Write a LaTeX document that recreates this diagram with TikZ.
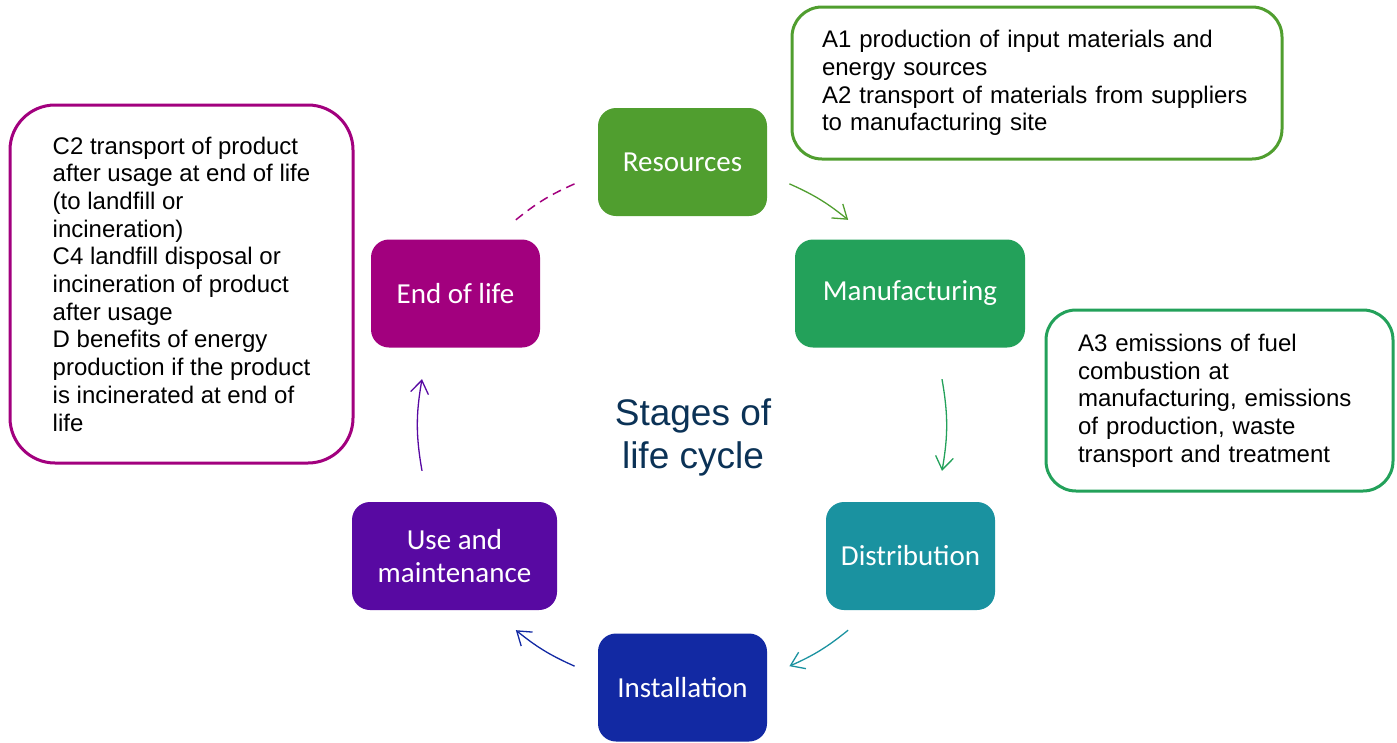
\documentclass[tikz,border=0pt]{standalone}
\usepackage{fontspec}
\setmainfont{Liberation Sans}
\newfontfamily\stagefont{Carlito}
\usetikzlibrary{arrows.meta,calc}
\definecolor{resgreen}{RGB}{80,158,47}
\definecolor{mangreen}{RGB}{35,161,90}
\definecolor{distteal}{RGB}{26,146,160}
\definecolor{instblue}{RGB}{18,41,163}
\definecolor{usepurple}{RGB}{88,9,162}
\definecolor{eolmagenta}{RGB}{162,0,126}
\definecolor{titlenavy}{RGB}{11,50,86}
\tikzset{
  stage/.style={rectangle,rounded corners=18pt,minimum width=169pt,minimum height=108pt,
    inner sep=0pt,align=center,text=white,font=\stagefont\fontsize{29}{33}\selectfont},
  note/.style={rectangle,draw,line width=3pt,rounded corners=30pt,align=left,
    font=\fontsize{24}{27.7}\selectfont},
  cyc/.style={line width=1.3pt,-{Straight Barb[length=13pt,width=18pt]}}
}
\begin{document}
\begin{tikzpicture}[x=1pt,y=-1pt]
    \useasboundingbox (0,0) rectangle (1397,742);
    \node[stage,fill=resgreen] (res) at (682.5,162) {Resources};
    \node[stage,fill=mangreen,minimum width=230pt] (man) at (910,293.5) {Manufacturing};
    \node[stage,fill=distteal] (dist) at (910.5,556) {Distribution};
    \node[stage,fill=instblue] (inst) at (682.5,687.5) {Installation};
    \node[stage,fill=usepurple,minimum width=205pt] (use) at (454.5,556) {Use and\\maintenance};
    \node[stage,fill=eolmagenta] (eol) at (455.5,293.5) {End of life};
    \node[align=center,text=titlenavy,font=\fontsize{37}{43}\selectfont] (title) at (693,437) {Stages of\\life cycle};
    \node[note,draw=resgreen,minimum width=490pt,minimum height=152pt,text width=430pt] (a12) at (1037,83)
      {A1 production of input materials and\\energy sources\\A2 transport of materials from suppliers\\to manufacturing site};
    \node[note,draw=mangreen,minimum width=347pt,minimum height=181pt,text width=283pt] (a3) at (1219.5,400.5)
      {A3 emissions of fuel\\combustion at\\manufacturing, emissions\\of production, waste\\transport and treatment};
    \node[note,draw=eolmagenta,rounded corners=45pt,minimum width=343pt,minimum height=358pt] (cd) at (181.5,284)
      {C2 transport of product\\after usage at end of life\\(to landfill or\\incineration)\\C4 landfill disposal or\\incineration of product\\after usage\\D benefits of energy\\production if the product\\is incinerated at end of\\life};
    \coordinate (hub) at (682,425);
    \coordinate (res_1) at ($(hub)+(66:264pt)$);
    \coordinate (man_0) at ($(hub)+(51:264pt)$);
    \coordinate (man_1) at ($(hub)+(10:264pt)$);
    \coordinate (dist_0) at ($(hub)+(-10:264pt)$);
    \coordinate (dist_1) at ($(hub)+(-51:264pt)$);
    \coordinate (inst_0) at ($(hub)+(-66:264pt)$);
    \coordinate (inst_1) at ($(hub)+(-114:264pt)$);
    \coordinate (use_0) at ($(hub)+(-129:264pt)$);
    \coordinate (use_1) at ($(hub)+(-170:264pt)$);
    \coordinate (eol_0) at ($(hub)+(170:264pt)$);
    \coordinate (eol_1) at ($(hub)+(129:264pt)$);
    \coordinate (res_0) at ($(hub)+(114:264pt)$);
    \draw[cyc,resgreen] (res_1) to[bend left=7.5] (man_0);
    \draw[cyc,mangreen] (man_1) to[bend left=10] (dist_0);
    \draw[cyc,distteal] (dist_1) to[bend left=7.5] (inst_0);
    \draw[cyc,instblue] (inst_1) to[bend left=7.5] (use_0);
    \draw[cyc,usepurple] (use_1) to[bend left=10] (eol_0);
    \draw[eolmagenta,line width=1.5pt,dash pattern=on 9pt off 6pt] (eol_1) to[bend left=7.5] (res_0);
\end{tikzpicture}
\end{document}
